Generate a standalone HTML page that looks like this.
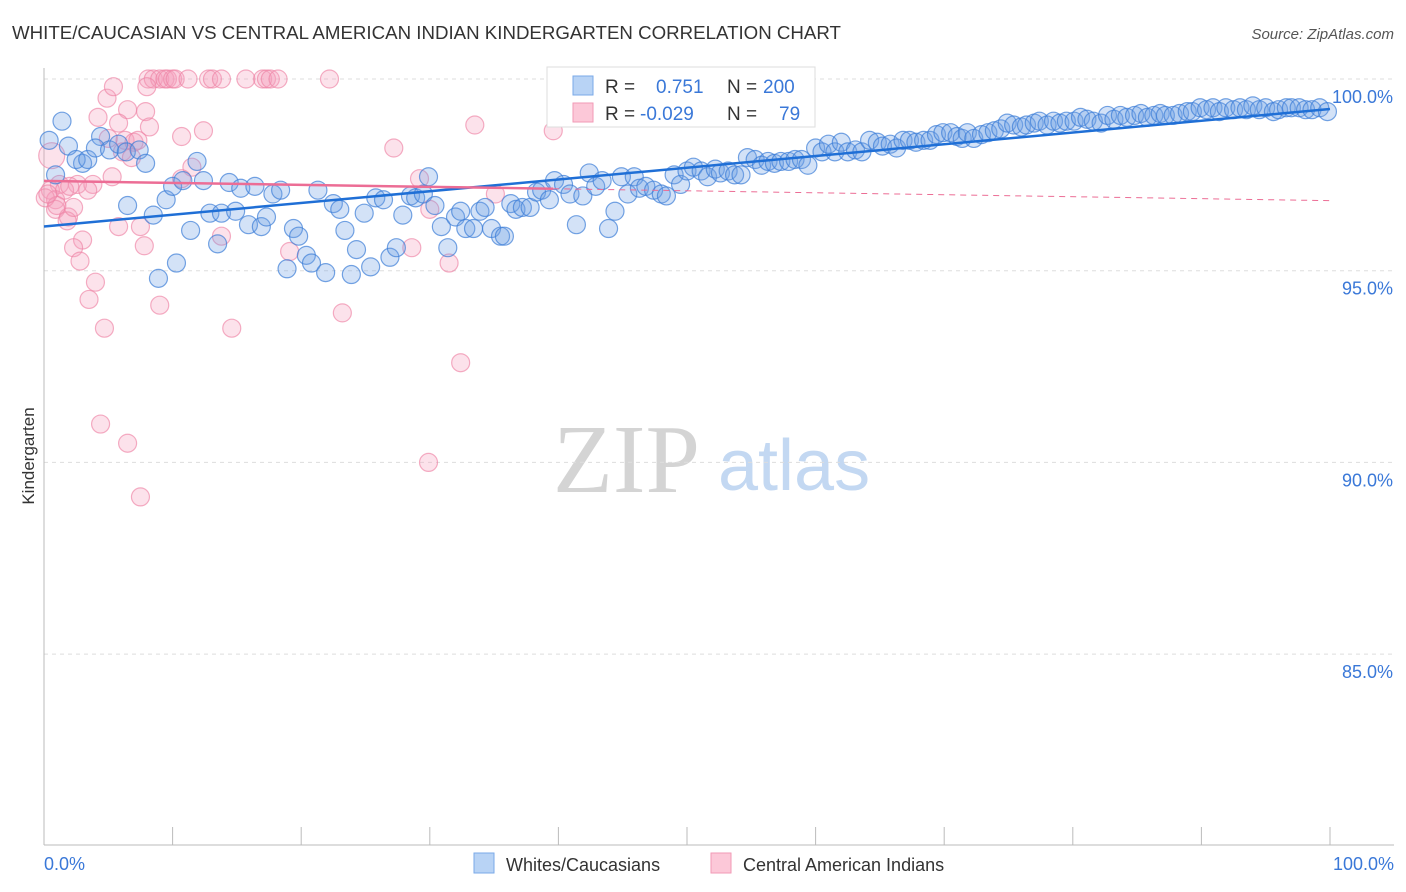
<!DOCTYPE html>
<html><head><meta charset="utf-8">
<style>
body{margin:0;background:#fff;font-family:"Liberation Sans",sans-serif;}
#wrap{position:relative;width:1406px;height:892px;overflow:hidden;}
</style></head>
<body>
<div id="wrap">
<svg id="svg" width="1406" height="892" xmlns="http://www.w3.org/2000/svg">
<text x="12" y="39" font-size="18.7" fill="#333">WHITE/CAUCASIAN VS CENTRAL AMERICAN INDIAN KINDERGARTEN CORRELATION CHART</text>
<text x="1394" y="39" font-size="15" fill="#555" font-style="italic" text-anchor="end">Source: ZipAtlas.com</text>
<text x="34" y="456" font-size="17" fill="#333" transform="rotate(-90 34 456)" text-anchor="middle">Kindergarten</text>
<text x="553" y="492" font-size="98" fill="#d4d4d4" font-family="Liberation Serif,serif">ZIP</text>
<text x="718" y="490" font-size="72" fill="#c3d8f2">atlas</text>
<g id="grid"></g><g id="pts"></g><g id="lines"></g>
<g>
<rect x="547" y="67" width="268" height="60" fill="#fff" stroke="#ddd"/>
<rect x="573" y="76" width="20" height="19" fill="#b8d3f5" stroke="#7aaae8"/>
<rect x="573" y="103" width="20" height="19" fill="#fcc8d8" stroke="#f29ab6"/>
<text x="605" y="93" font-size="19" fill="#333">R = </text><text x="656" y="93" font-size="19" fill="#3a78d8">0.751</text>
<text x="727" y="93" font-size="19" fill="#333">N =</text><text x="763" y="93" font-size="19" fill="#3a78d8">200</text>
<text x="605" y="120" font-size="19" fill="#333">R = </text><text x="640" y="120" font-size="19" fill="#3a78d8">-0.029</text>
<text x="727" y="120" font-size="19" fill="#333">N =</text><text x="779" y="120" font-size="19" fill="#3a78d8">79</text>
</g>
<g>
<rect x="474" y="853" width="20" height="20" fill="#b8d3f5" stroke="#7aaae8"/>
<text x="506" y="871" font-size="18" fill="#333">Whites/Caucasians</text>
<rect x="711" y="853" width="20" height="20" fill="#fcc8d8" stroke="#f29ab6"/>
<text x="743" y="871" font-size="18" fill="#333">Central American Indians</text>
</g>
<text x="44" y="870" font-size="18" fill="#3a78d8">0.0%</text>
<text x="1394" y="870" font-size="18" fill="#3a78d8" text-anchor="end">100.0%</text>
</svg>
</div>
<script>
const yTicks=[100,95,90,85];
const yTickLabels=["100.0%","95.0%","90.0%","85.0%"];
const xTicks=[0,10,20,30,40,50,60,70,80,90,100];
const blueX=[0.4,1.4,1.9,3.0,2.5,3.4,4.4,4.0,5.1,5.8,6.4,7.4,7.9,0.9,6.5,8.5,8.9,10.3,9.5,10.0,10.8,11.4,11.9,12.4,12.9,13.5,13.8,14.4,14.9,15.3,15.9,16.4,16.9,17.3,17.8,18.4,18.9,19.4,19.8,20.4,20.8,21.3,21.9,22.5,23.0,23.4,23.9,24.3,24.9,25.4,25.8,26.4,26.9,27.4,27.9,28.5,28.9,29.5,29.9,30.4,30.9,31.4,32.0,32.4,32.8,33.4,33.9,34.3,34.8,35.5,35.8,36.3,36.7,37.2,37.8,38.3,38.7,39.3,39.7,40.4,40.9,41.4,41.9,42.4,42.9,43.4,43.9,44.4,44.9,45.4,45.9,46.3,46.8,47.4,48.0,48.4,49.0,49.5,50.0,50.5,51.1,51.6,52.2,52.6,53.2,53.7,54.2,54.7,55.3,55.8,56.3,56.8,57.3,57.9,58.4,58.9,59.4,60.0,60.5,61.0,61.5,62.0,62.5,63.1,63.6,64.2,64.8,65.2,65.8,66.3,66.8,67.3,67.8,68.4,68.9,69.4,69.9,70.5,71.0,71.4,71.8,72.3,72.9,73.4,73.9,74.4,74.9,75.4,76.0,76.4,77.0,77.4,78.0,78.5,79.0,79.5,80.1,80.6,81.1,81.6,82.2,82.7,83.2,83.7,84.2,84.8,85.3,85.8,86.3,86.8,87.2,87.8,88.3,88.9,89.3,89.9,90.4,90.9,91.4,91.9,92.5,93.0,93.5,94.0,94.5,95.0,95.6,96.0,96.6,97.0,97.6,98.1,98.6,99.2,99.8];
const blueY=[98.4,98.9,98.25,97.8,97.9,97.9,98.5,98.2,98.15,98.3,98.1,98.15,97.8,97.5,96.7,96.45,94.8,95.2,96.85,97.2,97.35,96.05,97.85,97.35,96.5,95.7,96.5,97.3,96.55,97.15,96.2,97.2,96.15,96.4,97.0,97.1,95.05,96.1,95.9,95.4,95.2,97.1,94.95,96.75,96.6,96.05,94.9,95.55,96.5,95.1,96.9,96.85,95.35,95.6,96.45,96.95,96.9,97.0,97.45,96.7,96.15,95.6,96.4,96.55,96.1,96.1,96.55,96.65,96.1,95.9,95.9,96.75,96.6,96.65,96.65,97.05,97.1,96.85,97.35,97.25,97.0,96.2,96.95,97.55,97.2,97.35,96.1,96.55,97.45,97.0,97.45,97.15,97.2,97.1,97.0,96.95,97.5,97.25,97.6,97.7,97.6,97.45,97.65,97.55,97.6,97.5,97.5,97.95,97.9,97.75,97.85,97.8,97.85,97.85,97.9,97.9,97.75,98.2,98.1,98.3,98.1,98.35,98.1,98.15,98.1,98.4,98.35,98.25,98.3,98.2,98.4,98.4,98.35,98.4,98.4,98.55,98.6,98.6,98.5,98.45,98.6,98.45,98.55,98.6,98.65,98.7,98.85,98.8,98.75,98.8,98.85,98.9,98.8,98.9,98.85,98.9,98.9,99.0,98.95,98.9,98.85,99.05,98.95,99.05,99.0,99.05,99.1,99.0,99.05,99.1,99.05,99.05,99.1,99.15,99.15,99.25,99.2,99.25,99.15,99.25,99.2,99.25,99.2,99.3,99.2,99.25,99.15,99.2,99.25,99.25,99.25,99.2,99.2,99.25,99.15];
const pinkX=[8.1,8.5,9.0,9.4,9.6,10.0,10.2,11.2,12.8,13.1,13.8,15.7,17.0,17.3,17.6,18.2,22.2,8.0,4.9,5.4,0.6,4.2,6.5,7.9,8.2,10.7,12.4,5.8,5.0,6.3,7.0,7.3,6.1,6.8,5.3,11.5,10.7,1.2,2.6,3.8,3.4,0.5,0.9,0.9,1.9,1.8,2.3,5.8,7.5,3.0,2.3,7.8,2.8,4.0,3.5,9.0,4.7,14.6,4.4,6.5,7.5,23.2,32.4,29.9,27.2,33.5,39.6,13.8,19.1,28.6,31.5,29.2,30.0,35.1,1.6,0.1,1.0,2.0,0.3];
const pinkY=[100,100,100,100,100,100,100,100,100,100,100,100,100,100,100,100,100,99.8,99.5,99.8,98.0,99.0,99.2,99.15,98.75,98.5,98.65,98.85,98.45,98.4,98.35,98.4,98.1,97.95,97.45,97.7,97.4,97.25,97.25,97.25,97.1,97.1,96.85,96.6,96.4,96.3,96.65,96.15,96.15,95.8,95.6,95.65,95.25,94.7,94.25,94.1,93.5,93.5,91.0,90.5,89.1,93.9,92.6,90.0,98.2,98.8,98.65,95.9,95.5,95.6,95.2,97.4,96.6,97.0,97.1,96.9,96.7,97.2,97.0];
const X0=44,X1=1330,Y100=79,PXPCT=38.34;
const sx=v=>X0+(X1-X0)*v/100;
const sy=v=>Y100+(100-v)*PXPCT;
const NS="http://www.w3.org/2000/svg";
function mk(tag,attrs,parent){const e=document.createElementNS(NS,tag);for(const k in attrs)e.setAttribute(k,attrs[k]);parent.appendChild(e);return e;}
const grid=document.getElementById('grid');
yTicks.forEach((t,i)=>{
 const l=mk('line',{x1:44,x2:1394,y1:sy(t),y2:sy(t),stroke:'#ddd','stroke-dasharray':'4,4'},grid);
 
 
 const tx=mk('text',{x:1393,y:sy(t)+24,'font-size':18,fill:'#3a78d8','text-anchor':'end'},grid);
 tx.textContent=yTickLabels[i];
 
 
});
const ax=mk('line',{x1:44,x2:44,y1:68,y2:845,stroke:'#bbb'},grid);


const bx=mk('line',{x1:44,x2:1394,y1:845,y2:845,stroke:'#bbb'},grid);


xTicks.forEach(t=>{
 const l=mk('line',{x1:sx(t),x2:sx(t),y1:827,y2:845,stroke:'#bbb'},grid);
 
 
});
const pts=document.getElementById('pts');
pinkX.forEach((x,i)=>{
 const c=mk('circle',{cx:sx(x),cy:sy(pinkY[i]),r:(i==20?13:9),fill:'rgba(246,160,188,0.3)',stroke:'rgba(238,130,165,0.65)','stroke-width':1.2},pts);
 
 
});
blueX.forEach((x,i)=>{
 const c=mk('circle',{cx:sx(x),cy:sy(blueY[i]),r:9,fill:'rgba(110,160,230,0.3)',stroke:'rgba(60,125,215,0.7)','stroke-width':1.2},pts);
 
 
});
function reg(xs,ys){const n=xs.length;let mx=0,my=0;for(let i=0;i<n;i++){mx+=xs[i];my+=ys[i];}mx/=n;my/=n;let sxy=0,sxx=0;for(let i=0;i<n;i++){sxy+=(xs[i]-mx)*(ys[i]-my);sxx+=(xs[i]-mx)**2;}const b=sxy/sxx;return [my-b*mx,b];}
const lines=document.getElementById('lines');
const [ba,bb]=reg(blueX,blueY);
const bl=mk('line',{x1:sx(0),y1:sy(ba),x2:sx(100),y2:sy(ba+bb*100),stroke:'#1f6fd6','stroke-width':2.5},lines);


const [pa,pb]=reg(pinkX,pinkY);
const pmax=Math.max(...pinkX);
const pl=mk('line',{x1:sx(0),y1:sy(pa),x2:sx(pmax),y2:sy(pa+pb*pmax),stroke:'#ec6d95','stroke-width':2.5},lines);


const pd=mk('line',{x1:sx(pmax),y1:sy(pa+pb*pmax),x2:sx(100),y2:sy(pa+pb*100),stroke:'#ec6d95','stroke-width':1,'stroke-dasharray':'6,5'},lines);


</script>
</body></html>
